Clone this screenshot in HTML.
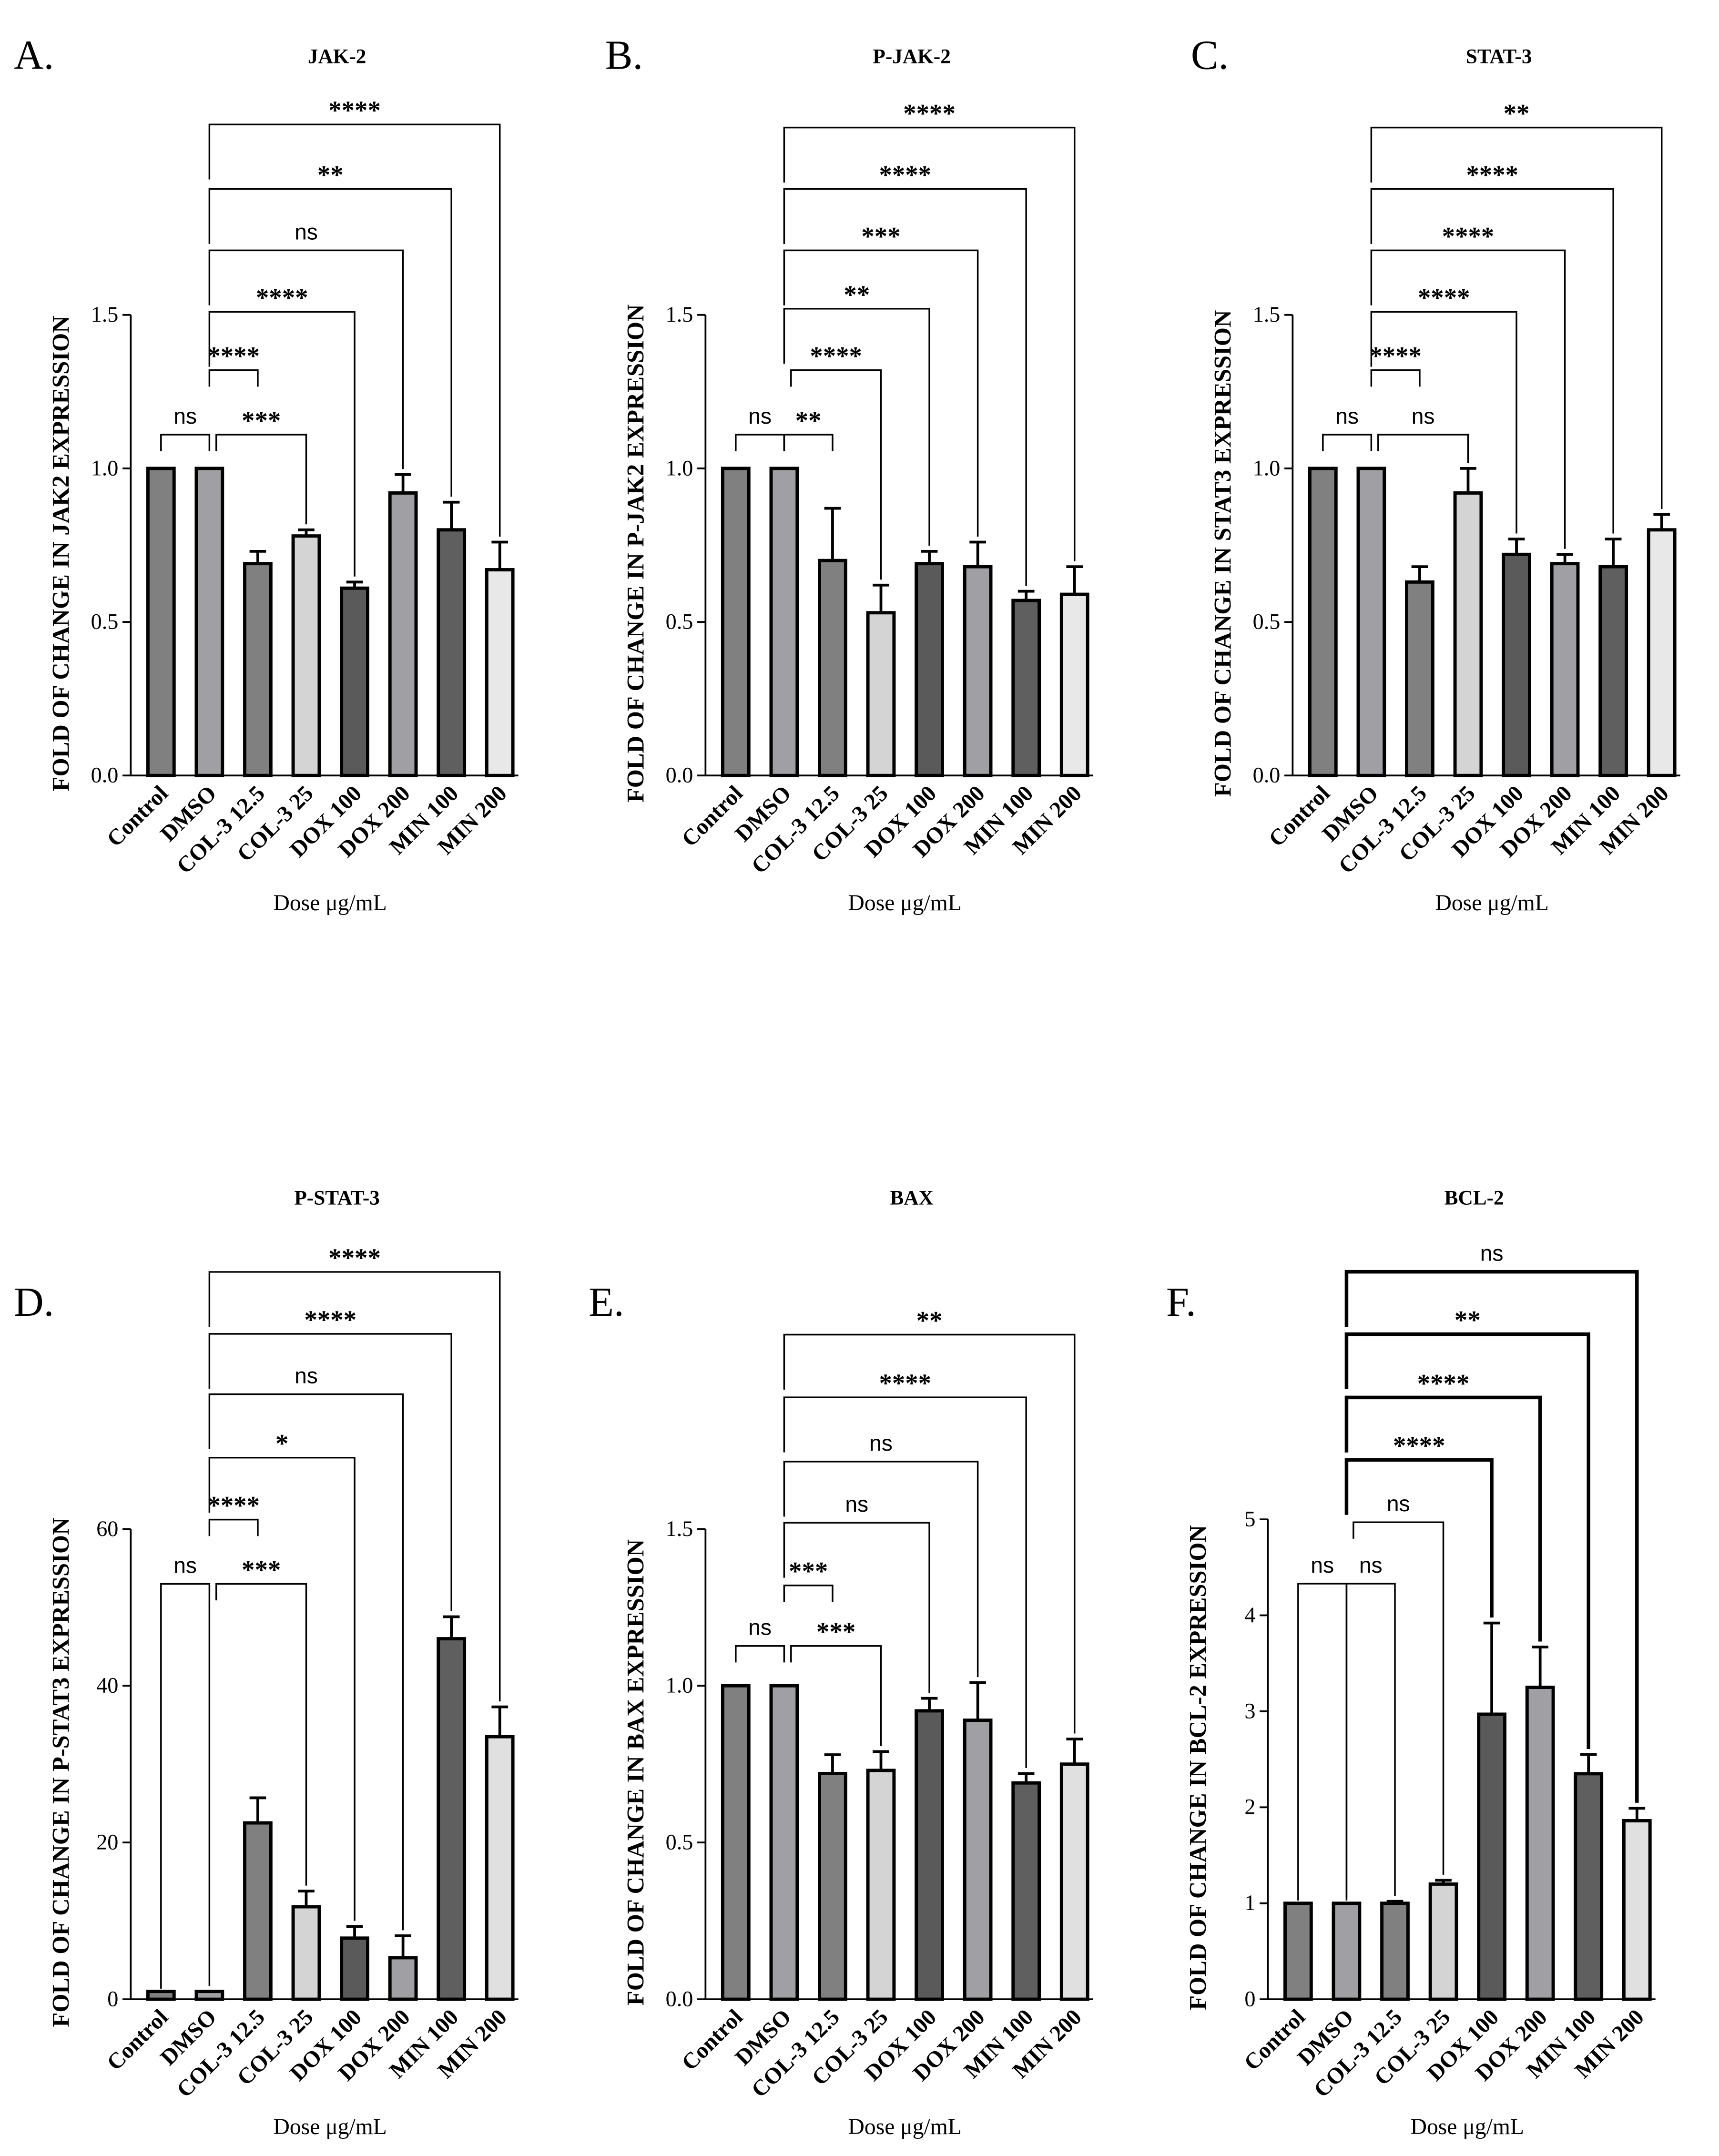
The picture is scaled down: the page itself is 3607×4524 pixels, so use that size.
<!DOCTYPE html>
<html><head><meta charset="utf-8"><style>
html,body{margin:0;padding:0;background:#fff}
svg{display:block}
text{font-family:"Liberation Serif",serif;fill:#000}
.ax{stroke:#000;stroke-width:1.3;fill:none}
.br{stroke:#000;fill:none}
</style></head><body>
<svg id="fig" xmlns="http://www.w3.org/2000/svg" width="3607" height="4524" viewBox="0 0 1250 1568"></svg>
<script>
const categories = ["Control","DMSO","COL-3 12.5","COL-3 25","DOX 100","DOX 200","MIN 100","MIN 200"];
const colorsTop = ["#808080","#a0a0a4","#808080","#d4d4d4","#5a5a5a","#a0a0a4","#5f5f5f","#e8e8e8"];
const colorsBot = ["#808080","#a0a0a4","#808080","#d4d4d4","#5a5a5a","#a0a0a4","#5f5f5f","#e0e0e0"];

const valuesA = [1,1,0.69,0.78,0.61,0.92,0.80,0.67];
const errorsA = [0,0,0.04,0.02,0.02,0.06,0.09,0.09];
const valuesB = [1,1,0.70,0.53,0.69,0.68,0.57,0.59];
const errorsB = [0,0,0.17,0.09,0.04,0.08,0.03,0.09];
const valuesC = [1,1,0.63,0.92,0.72,0.69,0.68,0.80];
const errorsC = [0,0,0.05,0.08,0.05,0.03,0.09,0.05];
const valuesD = [1,1,22.5,11.8,7.8,5.3,46,33.5];
const errorsD = [0,0,3.2,2,1.5,2.8,2.8,3.8];
const valuesE = [1,1,0.72,0.73,0.92,0.89,0.69,0.75];
const errorsE = [0,0,0.06,0.06,0.04,0.12,0.03,0.08];
const valuesF = [1,1,1,1.2,2.97,3.25,2.35,1.86];
const errorsF = [0,0,0.02,0.04,0.95,0.42,0.2,0.13];

const ticks15 = ["0.0","0.5","1.0","1.5"];
const ticks60 = ["0","20","40","60"];
const ticks5 = ["0","1","2","3","4","5"];

// brackets: [from, to, value-height, label, longLegs]
const bracketsA = [[0,1,1.11,"ns",0],[1,2,1.32,"****",0],[1,3,1.11,"***",0],[1,4,1.51,"****",0],[1,5,1.71,"ns",0],[1,6,1.91,"**",0],[1,7,2.12,"****",0]];
const bracketsB = [[0,1,1.11,"ns",0],[1,2,1.11,"**",0],[1,3,1.32,"****",0],[1,4,1.52,"**",0],[1,5,1.71,"***",0],[1,6,1.91,"****",0],[1,7,2.11,"****",0]];
const bracketsC = [[0,1,1.11,"ns",0],[1,2,1.32,"****",0],[1,3,1.11,"ns",0],[1,4,1.51,"****",0],[1,5,1.71,"****",0],[1,6,1.91,"****",0],[1,7,2.11,"**",0]];
const bracketsD = [[0,1,53,"ns",1],[1,2,61.2,"****",0],[1,3,53,"***",0],[1,4,69.1,"*",0],[1,5,77.2,"ns",0],[1,6,84.9,"****",0],[1,7,92.8,"****",0]];
const bracketsE = [[0,1,1.127,"ns",0],[1,2,1.32,"***",0],[1,3,1.127,"***",0],[1,4,1.52,"ns",0],[1,5,1.715,"ns",0],[1,6,1.92,"****",0],[1,7,2.12,"**",0]];
const bracketsF = [[0,1,4.33,"ns",1],[1,2,4.33,"ns",1],[1,3,4.97,"ns",0],[1,4,5.62,"****",0],[1,5,6.27,"****",0],[1,6,6.93,"**",0],[1,7,7.58,"ns",0]];

const svg = document.getElementById('fig');
const NS = "http://www.w3.org/2000/svg";
function mk(tag, attrs, parent){
  const e = document.createElementNS(NS, tag);
  for (const k in attrs) e.setAttribute(k, attrs[k]);
  (parent||svg).appendChild(e);
  return e;
}

function panel(p){
  const g = mk('g',{});
  
  
  const yS = v => p.y0 - (v/p.max)*(p.y0-p.yTop);
  const xS = i => p.ax + 22 + i*35.2;
  const bw = 19;
  const lt = mk('text',{x:p.lx,y:p.ly,'font-size':30},g); lt.textContent = p.id + ".";
  
  
  const tt = mk('text',{x:p.ax+150,y:p.ty,'font-size':15,'font-weight':'bold','text-anchor':'middle'},g); tt.textContent = p.title;
  
  
  const xEnd = xS(7)+bw/2+4;
  const axp = mk('path',{class:'ax',d:`M${p.ax},${p.yTop} V${p.y0} H${xEnd}`},g);
  
  
  p.ticks.forEach((t,k)=>{
    const v = k*p.max/(p.ticks.length-1);
    const y = yS(v);
    mk('line',{class:'ax',x1:p.ax-6,x2:p.ax,y1:y,y2:y},g);
    const tx = mk('text',{x:p.ax-9,y:y+5,'font-size':16,'text-anchor':'end'},g); tx.textContent = t;
    
    
  });
  const yl = mk('text',{x:0,y:0,'font-size':17.5,'font-weight':'bold','text-anchor':'middle',transform:`translate(${p.ax-45},${(p.y0+p.yTop)/2+6}) rotate(-90)`},g);
  yl.textContent = p.ylab;
  
  
  const xl = mk('text',{x:p.ax+145,y:p.y0+98,'font-size':16.5,'text-anchor':'middle'},g);
  xl.textContent = "Dose μg/mL";
  
  
  p.values.forEach((v,i)=>{
    const x = xS(i), top = yS(v);
    const e = p.errors[i];
    if (e>0){
      const ye = yS(v+e);
      mk('line',{x1:x,x2:x,y1:ye,y2:top,stroke:'#000','stroke-width':2},g);
      mk('line',{x1:x-6,x2:x+6,y1:ye,y2:ye,stroke:'#000','stroke-width':2},g);
    }
    const r = mk('rect',{x:x-bw/2,y:top,width:bw,height:p.y0-top,fill:p.colors[i],stroke:'#000','stroke-width':2.4},g);
    
    
    const cl = mk('text',{x:0,y:0,'font-size':16.5,'font-weight':'bold','text-anchor':'end',transform:`translate(${x+6},${p.y0+14}) rotate(-45)`},g);
    cl.textContent = categories[i];
    
    
  });
  p.brackets.forEach(b=>{
    const [i,j,h,lab,ll] = b;
    const y = yS(h);
    const span = j-i;
    let xi = xS(i), xj = xS(j);
    if (i===1 && j===3) xi += 5;
    const topI = yS(p.values[i]+p.errors[i]) - 2;
    const topJ = yS(p.values[j]+p.errors[j]) - 4;
    let yLi, yLj;
    if (span===1){
      yLi = ll ? topI : y+12;
      yLj = ll ? topJ : y+12;
    } else {
      yLi = y + (span===2 ? 12 : 40);
      yLj = topJ;
    }
    const sw = (p.thick && span>=3) ? 2.6 : 1.2;
    const pth = mk('path',{class:'br','stroke-width':sw,d:`M${xi},${yLi} V${y} H${xj} V${yLj}`},g);
    
    
    const isNs = lab==="ns";
    const lt2 = mk('text',{x:(xi+xj)/2,y:isNs? y-8 : y-4,'font-size':isNs?16:19,'font-weight':isNs?'normal':'bold','text-anchor':'middle',style:isNs?'font-family:"Liberation Sans",sans-serif':''},g);
    lt2.textContent = lab;
    
    
  });
}

panel({id:"A",title:"JAK-2",ax:95,y0:564,yTop:229,max:1.5,ticks:ticks15,values:valuesA,errors:errorsA,colors:colorsTop,brackets:bracketsA,lx:10,ly:50,ty:46,ylab:"FOLD OF CHANGE IN JAK2 EXPRESSION"});
panel({id:"B",title:"P-JAK-2",ax:513,y0:564,yTop:229,max:1.5,ticks:ticks15,values:valuesB,errors:errorsB,colors:colorsTop,brackets:bracketsB,lx:440,ly:50,ty:46,ylab:"FOLD OF CHANGE IN P-JAK2 EXPRESSION"});
panel({id:"C",title:"STAT-3",ax:940,y0:564,yTop:229,max:1.5,ticks:ticks15,values:valuesC,errors:errorsC,colors:colorsTop,brackets:bracketsC,lx:866,ly:50,ty:46,ylab:"FOLD OF CHANGE IN STAT3 EXPRESSION"});
panel({id:"D",title:"P-STAT-3",ax:95,y0:1454,yTop:1112,max:60,ticks:ticks60,values:valuesD,errors:errorsD,colors:colorsBot,brackets:bracketsD,lx:10,ly:957,ty:876,ylab:"FOLD OF CHANGE IN P-STAT3 EXPRESSION"});
panel({id:"E",title:"BAX",ax:513,y0:1454,yTop:1112,max:1.5,ticks:ticks15,values:valuesE,errors:errorsE,colors:colorsBot,brackets:bracketsE,lx:428,ly:957,ty:876,ylab:"FOLD OF CHANGE IN BAX EXPRESSION"});
panel({id:"F",title:"BCL-2",ax:922,y0:1454,yTop:1105,max:5,ticks:ticks5,values:valuesF,errors:errorsF,colors:colorsBot,brackets:bracketsF,lx:848,ly:957,ty:876,thick:true,ylab:"FOLD OF CHANGE IN BCL-2 EXPRESSION"});
</script>
</body></html>
